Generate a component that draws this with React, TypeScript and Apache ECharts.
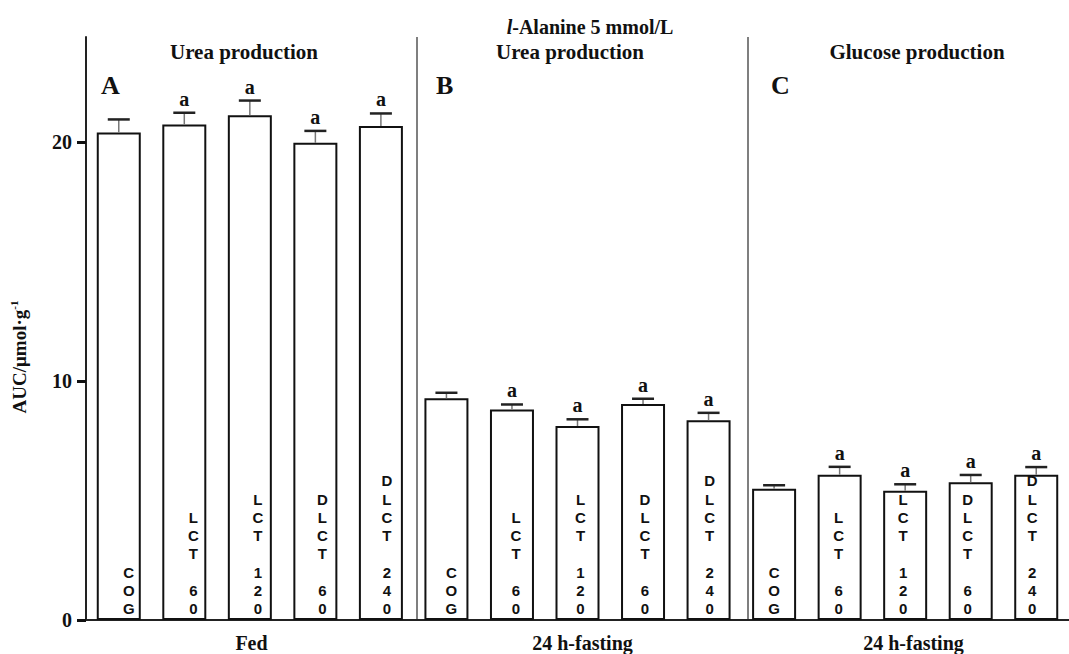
import React, { useEffect, useRef } from "react";
import * as echarts from "echarts";

const treatments = ["COG", "LCT 60", "LCT 120", "DLCT 60", "DLCT 240"];
const groupLabels = ["Fed", "24 h-fasting", "24 h-fasting"];
const panelTitles = ["Urea production", "Urea production", "Glucose production"];
const panelLetters = ["A", "B", "C"];

const ureaFedMean = [20.4, 20.74, 21.13, 19.97, 20.67];
const ureaFedErr = [0.55, 0.49, 0.61, 0.5, 0.53];
const ureaFastMean = [9.28, 8.81, 8.12, 9.04, 8.36];
const ureaFastErr = [0.23, 0.21, 0.28, 0.22, 0.31];
const glucFastMean = [5.49, 6.08, 5.41, 5.76, 6.08];
const glucFastErr = [0.15, 0.33, 0.27, 0.31, 0.32];
const ureaFedSig = ["", "a", "a", "a", "a"];
const ureaFastSig = ["", "a", "a", "a", "a"];
const glucFastSig = ["", "a", "a", "a", "a"];

const yTicks = [0, 10, 20];
const yMax = 24.4;

const SERIF = '"Liberation Serif", "Times New Roman", serif';
const SANS = '"Liberation Sans", Arial, sans-serif';

export default function App() {
  const ref = useRef<HTMLDivElement>(null);
  useEffect(() => {
    document.body.style.margin = "0";
    if (!ref.current) return;
    const chart = echarts.init(ref.current, undefined, { renderer: "svg" });

    const means = [...ureaFedMean, ...ureaFastMean, ...glucFastMean];
    const errs = [...ureaFedErr, ...ureaFastErr, ...glucFastErr];
    const sigs = [...ureaFedSig, ...ureaFastSig, ...glucFastSig];
    const cats = [0, 1, 2].flatMap((p) => treatments.map((t) => `${t}#${p}`));

    const gridLeft = 86;
    const gridTop = 37;
    const gridW = 993;
    const gridH = 583;
    const catW = gridW / cats.length;
    const bottomY = gridTop + gridH;

    const panelCenters = [0, 1, 2].map((k) => gridLeft + catW * (2.5 + 5 * k));
    const titleCenters = [244, 570, 917];
    const letterX = [101, 436, 771];

    const graphics: any[] = [];
    [1, 2].forEach((k) => {
      const x = gridLeft + catW * 5 * k;
      graphics.push({
        type: "line",
        shape: { x1: x, y1: gridTop, x2: x, y2: bottomY },
        style: { stroke: "#555", lineWidth: 1.5 },
      });
    });
    panelTitles.forEach((t, k) => {
      graphics.push({
        type: "text",
        x: titleCenters[k],
        y: 52,
        style: {
          text: t,
          align: "center",
          verticalAlign: "middle",
          fontFamily: SERIF,
          fontWeight: "bold",
          fontSize: 21,
          fill: "#111",
        },
      });
      graphics.push({
        type: "text",
        x: letterX[k],
        y: 85,
        style: {
          text: panelLetters[k],
          align: "left",
          verticalAlign: "middle",
          fontFamily: SERIF,
          fontWeight: "bold",
          fontSize: 26,
          fill: "#111",
        },
      });
    });
    groupLabels.forEach((t, k) => {
      graphics.push({
        type: "text",
        x: panelCenters[k],
        y: 643,
        style: {
          text: t,
          align: "center",
          verticalAlign: "middle",
          fontFamily: SERIF,
          fontWeight: "bold",
          fontSize: 20,
          lineHeight: 20,
          fill: "#111",
        },
      });
    });
    graphics.push({
      type: "text",
      x: 590,
      y: 27,
      style: {
        text: "{i|l}-Alanine 5 mmol/L",
        align: "center",
        verticalAlign: "middle",
        fontFamily: SERIF,
        fontWeight: "bold",
        fontSize: 20,
        fill: "#111",
        rich: {
          i: { fontStyle: "italic", fontFamily: SERIF, fontWeight: "bold", fontSize: 20, fill: "#111" },
        },
      },
    });
    graphics.push({
      type: "text",
      x: 19,
      y: 357,
      rotation: Math.PI / 2,
      style: {
        text: "AUC/μmol·g{sup|-1}",
        align: "center",
        verticalAlign: "middle",
        fontFamily: SERIF,
        fontWeight: "bold",
        fontSize: 19,
        lineHeight: 22,
        fill: "#111",
        rich: {
          sup: { fontSize: 11, fontFamily: SERIF, fontWeight: "bold", verticalAlign: "top", lineHeight: 22, fill: "#111" },
        },
      },
    });

    chart.setOption({
      animation: false,
      backgroundColor: "#fff",
      grid: { left: gridLeft, top: gridTop, width: gridW, height: gridH, containLabel: false },
      xAxis: {
        type: "category",
        data: cats,
        axisLine: { lineStyle: { color: "#222", width: 2 } },
        axisTick: { show: false },
        axisLabel: { show: false },
        splitLine: { show: false },
      },
      yAxis: {
        type: "value",
        min: 0,
        max: yMax,
        interval: 10,
        axisLine: { show: true, lineStyle: { color: "#222", width: 2 } },
        axisTick: { show: true, length: 9, lineStyle: { color: "#111", width: 3 }, customValues: yTicks },
        axisLabel: {
          customValues: yTicks,
          margin: 14,
          fontFamily: SERIF,
          fontWeight: "bold",
          fontSize: 20,
          color: "#111",
        },
        splitLine: { show: false },
      },
      graphic: graphics,
      series: [
        {
          type: "bar",
          barWidth: 44,
          data: means.map((v, i) => ({
            value: v,
            label: { offset: [10 - i, 0] },
          })),
          itemStyle: { color: "#fff", borderColor: "#111", borderWidth: 2 },
          label: {
            show: true,
            position: "insideBottom",
            distance: 2,
            formatter: (p: any) => treatments[p.dataIndex % 5].split("").join("\n"),
            fontFamily: SANS,
            fontWeight: "bold",
            fontSize: 15,
            lineHeight: 18.3,
            color: "#111",
          },
          silent: true,
        },
        {
          type: "custom",
          data: means.map((v, i) => [i, v, errs[i]]),
          encode: { x: 0, y: 1 },
          silent: true,
          z: 5,
          renderItem: (params: any, api: any) => {
            const i = api.value(0);
            const v = api.value(1);
            const e = api.value(2);
            const base = api.coord([i, v]);
            const top = api.coord([i, v + e]);
            const children: any[] = [
              {
                type: "line",
                shape: { x1: base[0], y1: base[1], x2: top[0], y2: top[1] },
                style: { stroke: "#777", lineWidth: 1.5 },
              },
              {
                type: "line",
                shape: { x1: top[0] - 11, y1: top[1], x2: top[0] + 11, y2: top[1] },
                style: { stroke: "#222", lineWidth: 2.5 },
              },
            ];
            const s = sigs[params.dataIndex];
            if (s) {
              children.push({
                type: "text",
                x: top[0],
                y: top[1] - 4,
                style: {
                  text: s,
                  align: "center",
                  verticalAlign: "bottom",
                  fontFamily: SERIF,
                  fontWeight: "bold",
                  fontSize: 20,
                  fill: "#111",
                },
              });
            }
            return { type: "group", children };
          },
        },
      ],
    });
    return () => chart.dispose();
  }, []);
  return <div ref={ref} style={{ width: 1069, height: 654 }} />;
}
